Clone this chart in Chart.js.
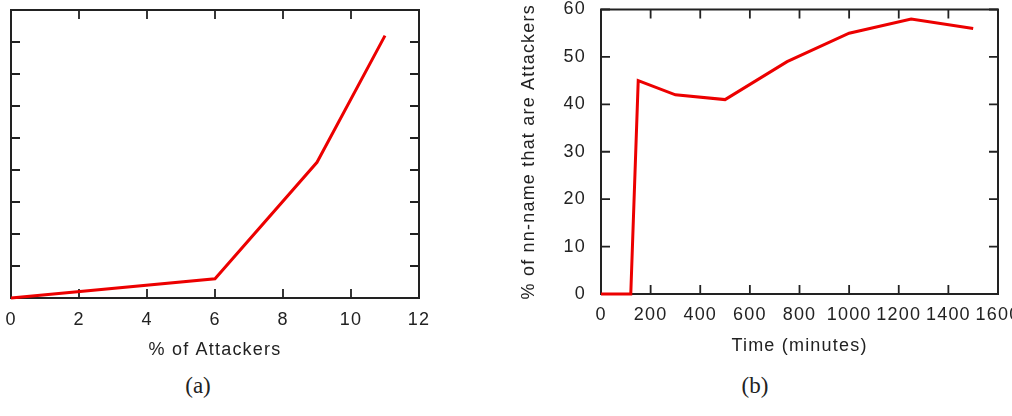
<!DOCTYPE html>
<html lang="en">
<head>
  <meta charset="utf-8"/>
  <title>Attackers charts</title>
  <script src="https://cdn.jsdelivr.net/npm/chart.js"></script>
  <style>
    html, body { margin: 0; padding: 0; background: #fff; }
    body { position: relative; width: 1012px; height: 416px; overflow: hidden; }
    canvas { position: absolute; top: 0; }
    #chartA { left: 0; }
    #chartB { left: 500px; }
    .cap {
      position: absolute;
      font-family: "Liberation Serif", "DejaVu Serif", serif;
      font-size: 23px;
      line-height: 1;
      color: #222;
      transform: translate(-50%, -50%);
    }
  </style>
</head>
<body>
  <canvas id="chartA" width="440" height="359" style="width:440px;height:359px"></canvas>
  <canvas id="chartB" width="530" height="355" style="width:530px;height:355px"></canvas>
  <div class="cap" style="left:198px;top:385px">(a)</div>
  <div class="cap" style="left:755px;top:385px">(b)</div>

<script>
  // (a) data
  const attackersPct = [0, 6, 9, 11];
  const attackersVal = [0, 0.6, 4.24, 8.2];
  const aXTicks = { min: 0, max: 12, step: 2 };
  const aYTicks = { min: 0, max: 9, step: 1 };

  // (b) data
  const timeMinutes = [0, 120, 150, 300, 500, 750, 1000, 1250, 1500];
  const nnAttackersPct = [0, 0, 45, 42, 41, 49, 55, 58, 56];
  const bXTicks = { min: 0, max: 1600, step: 200 };
  const bYTicks = { min: 0, max: 60, step: 10 };

  const RED = 'rgb(236,0,0)';
  const INK = '#222';

  Chart.defaults.font.family = '"Liberation Sans", Arial, sans-serif';
  Chart.defaults.font.size = 18;
  Chart.defaults.color = INK;

  // gnuplot-ish wider text
  const spacing = {
    id: 'spacing',
    afterInit(chart) { chart.ctx.letterSpacing = '1.2px'; },
    beforeDraw(chart) { chart.ctx.letterSpacing = '1.2px'; }
  };

  // box around plot + inward ticks on all four sides
  const frameTicks = {
    id: 'frameTicks',
    beforeDatasetsDraw(chart) {
      const { ctx, chartArea: a, scales: { x, y } } = chart;
      const len = 9;
      ctx.save();
      ctx.strokeStyle = INK;
      ctx.lineWidth = 1.8;
      ctx.beginPath();
      x.ticks.forEach(t => {
        const px = x.getPixelForValue(t.value);
        ctx.moveTo(px, a.bottom); ctx.lineTo(px, a.bottom - len);
        ctx.moveTo(px, a.top); ctx.lineTo(px, a.top + len);
      });
      y.ticks.forEach(t => {
        const py = y.getPixelForValue(t.value);
        ctx.moveTo(a.left, py); ctx.lineTo(a.left + len, py);
        ctx.moveTo(a.right, py); ctx.lineTo(a.right - len, py);
      });
      ctx.stroke();
      ctx.lineWidth = 2;
      ctx.strokeRect(a.left, a.top, a.right - a.left, a.bottom - a.top);
      ctx.restore();
    }
  };

  function points(xs, ys) {
    return xs.map((v, i) => ({ x: v, y: ys[i] }));
  }

  function lineDataset(xs, ys) {
    return {
      data: points(xs, ys),
      borderColor: RED,
      borderWidth: 3,
      pointRadius: 0,
      tension: 0,
      clip: false
    };
  }

  // invisible tick marks give the label gap without padding the chart area
  function gap(len) {
    return { display: true, drawOnChartArea: false, drawTicks: true, tickLength: len, color: 'rgba(0,0,0,0)' };
  }

  const plain = v => String(v);

  // (a)
  new Chart(document.getElementById('chartA'), {
    type: 'line',
    data: { datasets: [lineDataset(attackersPct, attackersVal)] },
    options: {
      responsive: false,
      animation: false,
      layout: { padding: { top: 10, left: 11, right: 21, bottom: 0 } },
      plugins: { legend: { display: false }, tooltip: { enabled: false } },
      scales: {
        x: {
          type: 'linear',
          min: aXTicks.min, max: aXTicks.max,
          grid: gap(13),
          border: { display: false },
          ticks: { stepSize: aXTicks.step, padding: 0, maxRotation: 0, autoSkip: false,
                   callback: plain, font: { lineHeight: 1 } },
          title: { display: true, text: '% of Attackers', padding: 0, font: { lineHeight: 1 } },
          afterFit(s) { s.height = 61; }
        },
        y: {
          type: 'linear',
          min: aYTicks.min, max: aYTicks.max,
          grid: { display: false, drawTicks: false },
          border: { display: false },
          ticks: { display: false, stepSize: aYTicks.step, padding: 0 },
          afterFit(s) { s.width = 0; }
        }
      }
    },
    plugins: [spacing, frameTicks]
  });

  // (b)
  new Chart(document.getElementById('chartB'), {
    type: 'line',
    data: { datasets: [lineDataset(timeMinutes, nnAttackersPct)] },
    options: {
      responsive: false,
      animation: false,
      layout: { padding: { top: 9.5, left: 20, right: 32, bottom: 0 } },
      plugins: { legend: { display: false }, tooltip: { enabled: false } },
      scales: {
        x: {
          type: 'linear',
          min: bXTicks.min, max: bXTicks.max,
          grid: gap(12),
          border: { display: false },
          ticks: { stepSize: bXTicks.step, padding: 0, maxRotation: 0, autoSkip: false,
                   callback: plain, font: { lineHeight: 1 } },
          title: { display: true, text: 'Time (minutes)', padding: 0, font: { lineHeight: 1 } },
          afterFit(s) { s.height = 61; }
        },
        y: {
          type: 'linear',
          min: bYTicks.min, max: bYTicks.max,
          grid: gap(15),
          border: { display: false },
          ticks: { stepSize: bYTicks.step, padding: 0, callback: plain, font: { lineHeight: 1 } },
          title: { display: true, text: '% of nn-name that are Attackers', padding: 0, font: { lineHeight: 1 } },
          afterFit(s) { s.width = 81; }
        }
      }
    },
    plugins: [spacing, frameTicks]
  });
</script>
</body>
</html>
